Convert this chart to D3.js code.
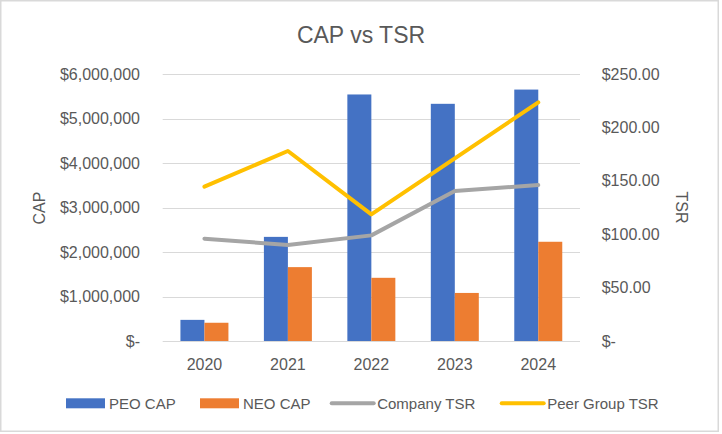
<!DOCTYPE html>
<html>
<head>
<meta charset="utf-8">
<script src="https://cdn.jsdelivr.net/npm/d3@7"></script>
<style>
  html, body { margin: 0; padding: 0; background: #fff; }
  svg { display: block; font-family: "Liberation Sans", Arial, sans-serif; }
</style>
</head>
<body>
<svg id="chart" width="722" height="434"></svg>
<script>
// ---- data ----
const years = ["2020", "2021", "2022", "2023", "2024"];
const peoCap = [475000, 2340000, 5540000, 5330000, 5650000];
const neoCap = [410000, 1660000, 1420000, 1080000, 2230000];
const companyTSR = [95.8, 89.9, 98.9, 140.4, 146.0];
const peerTSR = [144.5, 177.9, 118.6, 171.0, 223.5];
const capTicks = [0, 1000000, 2000000, 3000000, 4000000, 5000000, 6000000];
const capTickLabels = ["$-", "$1,000,000", "$2,000,000", "$3,000,000", "$4,000,000", "$5,000,000", "$6,000,000"];
const tsrTicks = [0, 50, 100, 150, 200, 250];
const tsrTickLabels = ["$-", "$50.00", "$100.00", "$150.00", "$200.00", "$250.00"];
const seriesNames = ["PEO CAP", "NEO CAP", "Company TSR", "Peer Group TSR"];
const seriesColors = ["#4472C4", "#ED7D31", "#A5A5A5", "#FFC000"];

// ---- layout ----
const plot = { left: 162.7, right: 580, top: 74, bottom: 341 };
const textColor = "#595959";
const gridColor = "#D9D9D9";

const svg = d3.select("#chart");

// chart border
svg.append("rect")
  .attr("x", 0.75).attr("y", 0.75)
  .attr("width", 717.5).attr("height", 430.5)
  .attr("fill", "#fff").attr("stroke", "#D9D9D9").attr("stroke-width", 1.5);

// scales
const x0 = d3.scaleBand().domain(years).range([plot.left, plot.right])
  .paddingInner(0.425).paddingOuter(0.2125);
const x1 = d3.scaleBand().domain(["PEO", "NEO"]).range([0, x0.bandwidth()]);
const yL = d3.scaleLinear().domain([0, 6000000]).range([plot.bottom, plot.top]);
const yR = d3.scaleLinear().domain([0, 250]).range([plot.bottom, plot.top]);

// gridlines
svg.append("g").selectAll("line").data(capTicks).join("line")
  .attr("x1", plot.left).attr("x2", plot.right)
  .attr("y1", d => Math.round(yL(d)) + 0.5).attr("y2", d => Math.round(yL(d)) + 0.5)
  .attr("stroke", gridColor).attr("stroke-width", 1);

// title
svg.append("text")
  .attr("x", 361).attr("y", 43.3)
  .attr("text-anchor", "middle")
  .attr("fill", textColor)
  .attr("font-size", 23)
  .text("CAP vs TSR");

// left axis
const axL = svg.append("g").attr("transform", `translate(${plot.left},0)`)
  .call(d3.axisLeft(yL).tickValues(capTicks).tickSize(0).tickPadding(22.7)
    .tickFormat((d, i) => capTickLabels[i]));
axL.select(".domain").remove();
axL.selectAll("text").attr("fill", textColor).attr("font-size", 16)
  .attr("font-family", '"Liberation Sans", Arial, sans-serif');

// right axis
const axR = svg.append("g").attr("transform", `translate(${plot.right},0)`)
  .call(d3.axisRight(yR).tickValues(tsrTicks).tickSize(0).tickPadding(21.7)
    .tickFormat((d, i) => tsrTickLabels[i]));
axR.select(".domain").remove();
axR.selectAll("text").attr("fill", textColor).attr("font-size", 16)
  .attr("font-family", '"Liberation Sans", Arial, sans-serif');

// bottom axis
const axB = svg.append("g").attr("transform", `translate(0,${plot.bottom})`)
  .call(d3.axisBottom(x0).tickSize(0).tickPadding(17.4));
axB.select(".domain").remove();
axB.selectAll("text").attr("fill", textColor).attr("font-size", 16)
  .attr("font-family", '"Liberation Sans", Arial, sans-serif');

// axis titles
svg.append("text")
  .attr("transform", "translate(39,208) rotate(-90)")
  .attr("text-anchor", "middle").attr("dy", "0.35em")
  .attr("fill", textColor).attr("font-size", 16)
  .text("CAP");
svg.append("text")
  .attr("transform", "translate(682,207.5) rotate(90)")
  .attr("text-anchor", "middle").attr("dy", "0.35em")
  .attr("fill", textColor).attr("font-size", 16)
  .text("TSR");

// bars
const barData = years.map((y, i) => [
  { year: y, key: "PEO", value: peoCap[i], color: seriesColors[0] },
  { year: y, key: "NEO", value: neoCap[i], color: seriesColors[1] }
]).flat();
svg.append("g").selectAll("rect").data(barData).join("rect")
  .attr("x", d => x0(d.year) + x1(d.key))
  .attr("width", x1.bandwidth())
  .attr("y", d => yL(d.value))
  .attr("height", d => yL(0) - yL(d.value))
  .attr("fill", d => d.color);

// lines
const lineGen = d3.line()
  .x((d, i) => x0(years[i]) + x0.bandwidth() / 2)
  .y(d => yR(d));
[[companyTSR, seriesColors[2]], [peerTSR, seriesColors[3]]].forEach(([vals, col]) => {
  svg.append("path")
    .datum(vals)
    .attr("d", lineGen)
    .attr("fill", "none")
    .attr("stroke", col)
    .attr("stroke-width", 4)
    .attr("stroke-linejoin", "round")
    .attr("stroke-linecap", "round");
});

// legend
const legendStarts = [66, 200, 331.7, 501.7];
const legendY = 403.3;
const lg = svg.append("g");
seriesNames.forEach((name, i) => {
  const sx = legendStarts[i];
  let tx;
  if (i < 2) {
    lg.append("rect").attr("x", sx).attr("y", legendY - 5).attr("width", 39).attr("height", 10)
      .attr("fill", seriesColors[i]);
    tx = sx + 43;
  } else {
    lg.append("line").attr("x1", sx).attr("x2", sx + 42).attr("y1", legendY).attr("y2", legendY)
      .attr("stroke", seriesColors[i]).attr("stroke-width", 4).attr("stroke-linecap", "round");
    tx = sx + 45.5;
  }
  lg.append("text").attr("x", tx).attr("y", legendY).attr("dy", "0.35em")
    .attr("fill", textColor).attr("font-size", 15).text(name);
});
</script>
</body>
</html>
